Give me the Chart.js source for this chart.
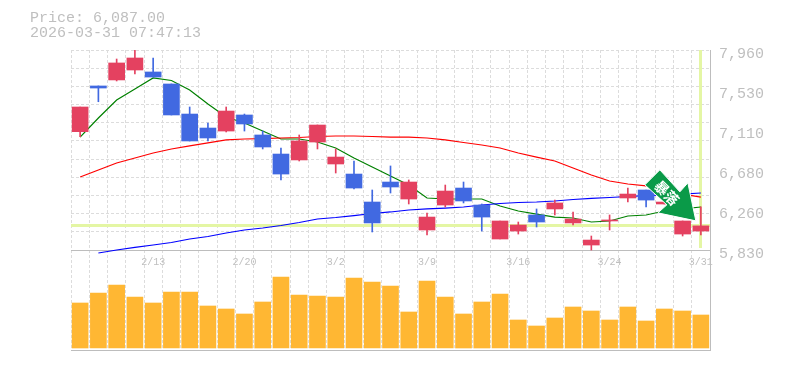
<!DOCTYPE html>
<html>
<head>
<meta charset="utf-8">
<style>
  body { margin: 0; background: #fff; }
  #wrap { position: relative; width: 785px; height: 370px; overflow: hidden; }
  #info { position: absolute; left: 30px; top: 11px; font: 15px/15px "Liberation Mono", monospace; color: #bfbfbf; white-space: pre; }
  canvas { display: block; }
</style>
</head>
<body>
<div id="wrap">
  <canvas id="chart" width="785" height="370"></canvas>
  <div id="info">Price: 6,087.00
2026-03-31 07:47:13</div>
</div>
<script src="https://cdn.jsdelivr.net/npm/chart.js@4"></script>
<script>
// =========================================================
// DATA
// =========================================================
const dates = ['2/6','2/9','2/10','2/12','2/13','2/16','2/17','2/18','2/19','2/20','2/24','2/25','2/26','2/27','3/2','3/3','3/4','3/5','3/6','3/9','3/10','3/11','3/12','3/13','3/16','3/17','3/18','3/19','3/23','3/24','3/25','3/26','3/27','3/30','3/31'];

const opens  = [7090,7577,7641,7747,7726,7598,7278,7129,7097,7268,7055,6852,6789,6980,6746,6639,6341,6554,6373,6043,6309,6490,6309,5947,6032,6203,6267,6118,5883,6139,6384,6469,6320,6000,6032];
const highs  = [7353,7577,7864,7960,7875,7598,7353,7183,7353,7278,7097,6916,7055,7161,6906,6778,6469,6725,6576,6224,6522,6554,6320,6139,6128,6267,6362,6235,5979,6203,6490,6469,6341,6139,6291];
const lows   = [7037,7409,7630,7704,7672,7268,6991,6991,7087,7097,6906,6576,6778,6906,6650,6480,6022,6437,6320,5990,6288,6331,6032,5947,6000,6075,6203,6096,5830,6043,6341,6288,6320,5979,5990];
const closes = [7353,7555,7822,7875,7672,7268,6991,7023,7310,7172,6927,6639,6991,7161,6820,6490,6118,6501,6554,6181,6458,6352,6181,6139,6096,6128,6331,6160,5936,6150,6426,6362,6341,6139,6087];

const maShort = [7033,7236,7428,7545,7662,7635,7534,7385,7246,7183,7097,7012,7012,6980,6916,6810,6714,6618,6522,6384,6373,6373,6373,6299,6245,6213,6181,6171,6128,6139,6192,6203,6245,6267,6288];
const maMid   = [6607,6682,6757,6810,6863,6906,6938,6970,7002,7012,7017,7023,7028,7039,7044,7044,7039,7033,7033,7023,7002,6975,6948,6916,6863,6820,6778,6703,6629,6565,6533,6512,6469,6426,6394];
const maLong  = [null,5798,5830,5857,5883,5910,5947,5974,6011,6043,6064,6091,6123,6160,6176,6197,6219,6235,6256,6267,6277,6288,6309,6325,6336,6341,6352,6368,6379,6389,6400,6410,6416,6426,6437];

const volumes = [45,55,63,51,45,56,56,42,39,34,46,71,53,52,51,70,66,62,36,67,51,34,46,54,28,22,30,41,37,28,41,27,39,37,33];

const priceTicks = [5830,6260,6680,7110,7530,7960];
const gridTicks  = [5830,6024,6217,6411,6604,6798,6992,7185,7379,7573,7766,7960];
const currentPrice = 6087;
const signalText = '暴落';

// =========================================================
// COLOURS
// =========================================================
const RED = '#e44160';
const BLUE = '#4169e1';
const ORANGE = '#ffb733';
const GRID = '#dcdcdc';
const AXIS = '#bdbdbd';
const TEXT = '#bfbfbf';
const CROSS = '#e4f6a4';
const ARROW = '#0a9a48';

const candleColors = closes.map((c, i) => c >= opens[i] ? RED : BLUE);
const wicks = dates.map((d, i) => [lows[i], highs[i]]);
const bodies = dates.map((d, i) => [opens[i], closes[i]]);

function lineSet(values, color) {
    return { type: 'line', data: values, yAxisID: 'y', xAxisID: 'x', borderColor: color, borderWidth: 1.2, pointRadius: 0, tension: 0, order: 3 };
}

// =========================================================
// CROSSHAIR + SIGNAL ARROW
// =========================================================
const overlays = {
    id: 'overlays',
    beforeDatasetsDraw(chart) {
        const { ctx, chartArea, scales } = chart;
        const py = Math.floor(scales.y.getPixelForValue(currentPrice) - 1.5);
        const px = Math.floor(scales.x.getPixelForValue(dates.length - 1) - 1.5);
        const bottom = scales.y.getPixelForValue(priceTicks[0]) - 2;
        ctx.save();
        ctx.fillStyle = CROSS;
        ctx.fillRect(chartArea.left, py, chartArea.right - chartArea.left, 3);
        ctx.fillRect(px, chartArea.top, 3, bottom - chartArea.top);
        ctx.restore();
    },
    afterDatasetsDraw(chart) {
        const { ctx, scales } = chart;
        const tipX = scales.x.getPixelForValue(dates.length - 1) - 5;
        const tipY = scales.y.getPixelForValue(currentPrice) - 5;
        const shape = [[-36,-51],[-51,-36],[-29,-16],[-38,-8],[0,0],[-8,-38],[-16,-29]];
        ctx.save();
        ctx.translate(tipX, tipY);
        ctx.beginPath();
        shape.forEach((p, i) => i ? ctx.lineTo(p[0], p[1]) : ctx.moveTo(p[0], p[1]));
        ctx.closePath();
        ctx.fillStyle = ARROW;
        ctx.strokeStyle = '#fff';
        ctx.lineWidth = 1;
        ctx.fill();
        ctx.stroke();
        ctx.translate(-29, -28);
        ctx.rotate(Math.PI / 4);
        ctx.fillStyle = '#fff';
        ctx.font = 'bold 14px "Noto Sans CJK JP"';
        ctx.textAlign = 'center';
        ctx.textBaseline = 'middle';
        ctx.fillText(signalText, 0, 0);
        ctx.restore();
    }
};

// =========================================================
// CHART
// =========================================================
new Chart(document.getElementById('chart').getContext('2d'), {
    data: {
        labels: dates,
        datasets: [
            { type: 'bar', data: volumes, yAxisID: 'yVol', xAxisID: 'x', backgroundColor: ORANGE, barThickness: 16, grouped: false, order: 4 },
            lineSet(maLong, '#0000ff'),
            lineSet(maMid, '#ff0000'),
            lineSet(maShort, '#008000'),
            { type: 'bar', data: wicks, yAxisID: 'y', xAxisID: 'x', backgroundColor: candleColors, barThickness: 1, grouped: false, order: 2 },
            { type: 'bar', data: bodies, yAxisID: 'y', xAxisID: 'x', backgroundColor: candleColors, barThickness: 16, grouped: false, order: 1 }
        ]
    },
    plugins: [overlays],
    options: {
        responsive: false,
        animation: false,
        layout: { padding: { left: 71, top: 50, bottom: 20, right: 0 } },
        plugins: { legend: { display: false }, tooltip: { enabled: false } },
        scales: {
            x: {
                type: 'category',
                position: { y: priceTicks[0] },
                offset: true,
                grid: { color: GRID, offset: true, drawTicks: false },
                border: { color: AXIS, width: 1, dash: [3, 2] },
                ticks: {
                    autoSkip: false, maxRotation: 0, padding: 6, color: TEXT,
                    font: { family: '"Liberation Mono"', size: 10 },
                    callback(value, index) { return index % 5 === 4 ? dates[index] : ''; }
                }
            },
            xBase: {
                type: 'category',
                position: 'bottom',
                offset: true,
                grid: { display: false },
                border: { color: AXIS, width: 1 },
                ticks: { display: false },
                afterFit(scale) { scale.height = 0; }
            },
            y: {
                position: 'right',
                min: 4765, max: 7960,
                grid: { display: false },
                border: { color: AXIS, width: 1 },
                ticks: {
                    autoSkip: false, padding: 1, labelOffset: 4, color: TEXT,
                    font: { family: '"Liberation Mono"', size: 15 },
                    callback(value) { return value.toLocaleString('en-US'); }
                },
                afterBuildTicks(scale) { scale.ticks = priceTicks.map(v => ({ value: v })); },
                afterFit(scale) { scale.width = 75; }
            },
            yGrid: {
                position: 'left',
                min: 4765, max: 7960,
                grid: { color: GRID, drawTicks: false },
                border: { display: false, dash: [3, 2] },
                ticks: { display: false },
                afterBuildTicks(scale) { scale.ticks = gridTicks.map(v => ({ value: v })); },
                afterFit(scale) { scale.width = 0; }
            },
            yVol: { display: false, min: -2, max: 298 }
        }
    }
});
</script>
</body>
</html>
